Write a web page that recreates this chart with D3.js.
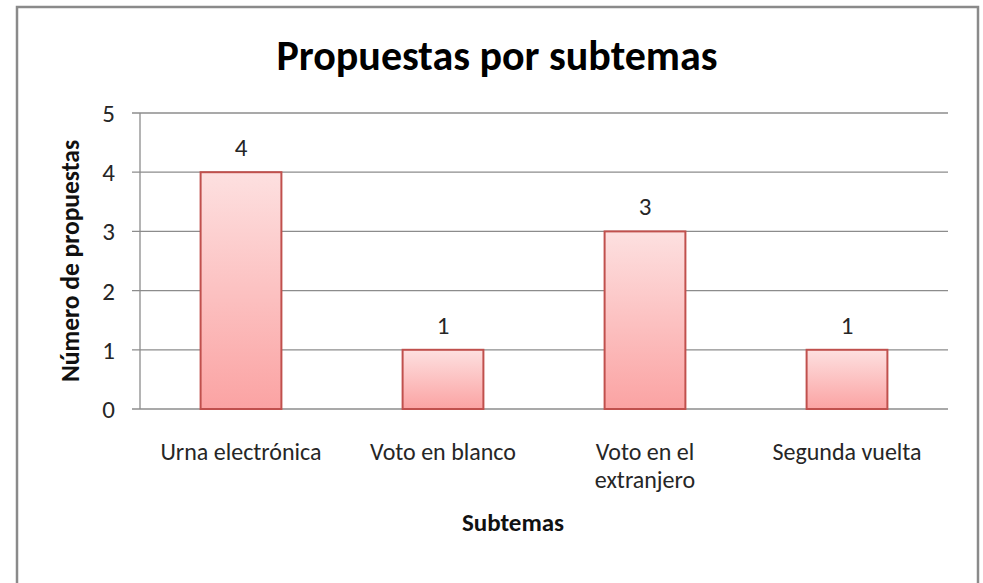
<!DOCTYPE html>
<html>
<head>
<meta charset="utf-8">
<script src="https://cdn.jsdelivr.net/npm/d3@7"></script>
<style>
  body { margin: 0; background: #fff; }
  text { font-family: Carlito, Calibri, Lato, sans-serif; fill: #262626; }
</style>
</head>
<body>
<div id="chart"></div>
<script>
var categories = [["Urna electrónica"], ["Voto en blanco"], ["Voto en el", "extranjero"], ["Segunda vuelta"]];
var values = [4, 1, 3, 1];
var yTicks = [0, 1, 2, 3, 4, 5];
var title = "Propuestas por subtemas";
var xTitle = "Subtemas";
var yTitle = "Número de propuestas";

var width = 983, height = 583;
var margin = {top: 113, right: 35, bottom: 174, left: 140};

var svg = d3.select("#chart").append("svg")
  .attr("width", width)
  .attr("height", height);

// gradient for bars
var grad = svg.append("defs").append("linearGradient")
  .attr("id", "barfill")
  .attr("x1", 0).attr("y1", 0).attr("x2", 0).attr("y2", 1);
grad.append("stop").attr("offset", "0%").attr("stop-color", "#fde0e0");
grad.append("stop").attr("offset", "100%").attr("stop-color", "#fba3a3");

// outer frame
svg.append("rect")
  .attr("x", 17).attr("y", 7)
  .attr("width", 961).attr("height", 600)
  .attr("fill", "#fff")
  .attr("stroke", "#8a8a8a")
  .attr("stroke-width", 2.5);

var x = d3.scaleBand()
  .domain(d3.range(categories.length))
  .range([margin.left, width - margin.right])
  .paddingInner(0.6)
  .paddingOuter(0.3);

var y = d3.scaleLinear()
  .domain([0, 5])
  .range([height - margin.bottom, margin.top]);

var g = svg.append("g");

// gridlines + y ticks
g.selectAll(".grid")
  .data(yTicks)
  .enter().append("line")
  .attr("x1", margin.left - 8)
  .attr("x2", width - margin.right)
  .attr("y1", d => y(d))
  .attr("y2", d => y(d))
  .attr("stroke", "#8c8c8c")
  .attr("stroke-width", 1.3);

// y axis line
g.append("line")
  .attr("x1", margin.left).attr("x2", margin.left)
  .attr("y1", y(0)).attr("y2", y(5))
  .attr("stroke", "#8c8c8c")
  .attr("stroke-width", 1.3);

g.selectAll(".ylab")
  .data(yTicks)
  .enter().append("text")
  .attr("x", margin.left - 25)
  .attr("y", d => y(d) + 9)
  .attr("text-anchor", "end")
  .style("font-size", "25px")
  .text(d => d);

// bars
g.selectAll(".bar")
  .data(values)
  .enter().append("rect")
  .attr("x", (d, i) => x(i))
  .attr("y", d => y(d))
  .attr("width", x.bandwidth())
  .attr("height", d => y(0) - y(d))
  .attr("fill", "url(#barfill)")
  .attr("stroke", "#c0504d")
  .attr("stroke-width", 2);

// value labels
g.selectAll(".val")
  .data(values)
  .enter().append("text")
  .attr("x", (d, i) => x(i) + x.bandwidth() / 2)
  .attr("y", d => y(d) - 16)
  .attr("text-anchor", "middle")
  .style("font-size", "25px")
  .text(d => d);

// category labels, one text per line
var cat = g.selectAll(".cat")
  .data(categories)
  .enter().append("g");

cat.selectAll("text")
  .data((d, i) => d.map(s => ({s: s, i: i})))
  .enter().append("text")
  .attr("text-anchor", "middle")
  .style("font-size", "24px")
  .attr("x", d => x(d.i) + x.bandwidth() / 2)
  .attr("y", (d, j) => y(0) + 51 + j * 28)
  .text(d => d.s);

// titles
svg.append("text")
  .attr("x", 497)
  .attr("y", 70)
  .attr("text-anchor", "middle")
  .style("font-size", "42px")
  .style("font-weight", "bold")
  .style("fill", "#000")
  .text(title);

svg.append("text")
  .attr("x", 513)
  .attr("y", 531)
  .attr("text-anchor", "middle")
  .style("font-size", "25px")
  .style("font-weight", "bold")
  .style("fill", "#111")
  .text(xTitle);

svg.append("text")
  .attr("transform", "translate(79,261) rotate(-90)")
  .attr("text-anchor", "middle")
  .style("font-size", "25.5px")
  .style("font-weight", "bold")
  .style("fill", "#111")
  .text(yTitle);
</script>
</body>
</html>
